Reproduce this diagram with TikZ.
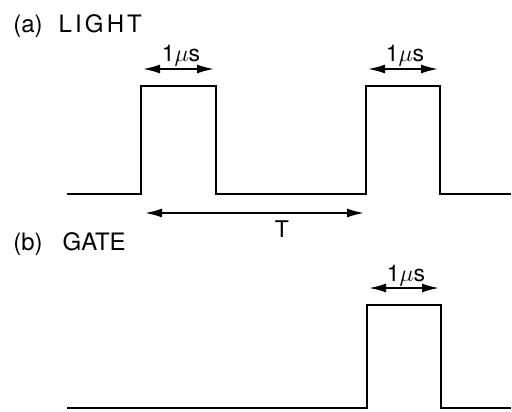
\documentclass[tikz,border=0pt]{standalone}
\usepackage{fontspec}
\setsansfont{TeX Gyre Heros}
\usetikzlibrary{arrows.meta}

\begin{document}
\begin{tikzpicture}[
  x=0.5pt, y=-0.5pt,
  font=\sffamily\fontsize{11.5}{13}\selectfont,
  >={Latex[length=8.5pt,width=4.5pt]},
  wave/.style={draw=black, line width=1.4pt, line join=miter},
  span/.style={<->, draw=black, line width=0.9pt, shorten <=1pt, shorten >=1pt},
  title/.style={anchor=base west, inner sep=0pt, font=\sffamily\fontsize{12}{14}\selectfont},
  durlabel/.style={anchor=base, inner sep=0pt}
]
  \useasboundingbox (0,0) rectangle (512,411);

  % titles
  \node[title] (lighttitle) at (13,33) {(a)\hspace{8pt}{\addfontfeatures{LetterSpace=13}LIGHT}};
  \node[title] (gatetitle) at (13,250) {(b)\hspace{10pt}GATE};

  % light pulses
  \draw[wave] (67,194) -- (141,194) -- (141,86) -- (216,86) -- (216,194)
    -- (366,194) -- (366,86) -- (440,86) -- (440,194) -- (511,194);

  % gate pulse
  \draw[wave] (67,408) -- (367,408) -- (367,305) -- (441,305) -- (441,408) -- (511,408);

  % widths
  \coordinate (w1a) at (141,69);
  \coordinate (w1b) at (216,69);
  \coordinate (w2a) at (366,69);
  \coordinate (w2b) at (440,69);
  \coordinate (w3a) at (367,288);
  \coordinate (w3b) at (441,288);
  \draw[span] (w1a) -- (w1b);
  \draw[span] (w2a) -- (w2b);
  \draw[span] (w3a) -- (w3b);
  \node[durlabel] (dur1) at (181,62) {1$\mu$s};
  \node[durlabel] (dur2) at (405,62) {1$\mu$s};
  \node[durlabel] (dur3) at (406,281) {1$\mu$s};

  % period
  \coordinate (ta) at (143,213);
  \coordinate (tb) at (366,213);
  \draw[span] (ta) -- (tb);
  \node[durlabel] (period) at (282,237) {T};
\end{tikzpicture}
\end{document}
